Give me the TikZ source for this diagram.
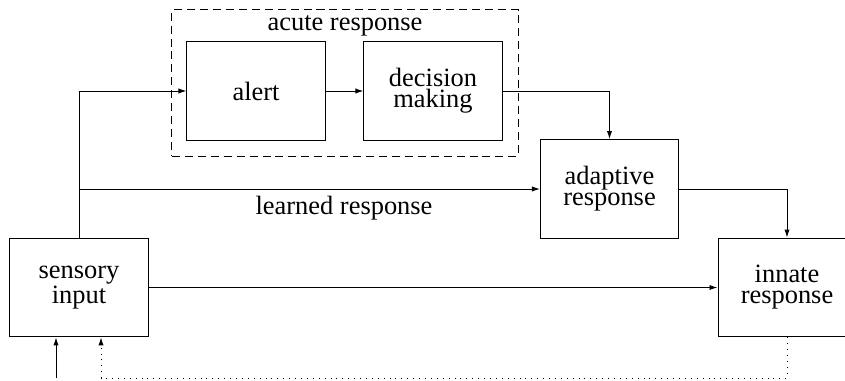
\documentclass[tikz,border=0pt]{standalone}
\usepackage{fontspec}
\setmainfont{Liberation Serif}
\usetikzlibrary{arrows.meta}
\begin{document}
\begin{tikzpicture}[x=0.025cm,y=-0.025cm,line width=0.7pt,
  >={Latex[length=2mm,width=1.3mm]},
  box/.style={draw,minimum width=3.45cm,minimum height=2.47cm,align=center,
    font=\fontsize{18.8}{15}\selectfont},
  txt/.style={font=\fontsize{18.8}{15}\selectfont},
  fbline/.style={dash pattern=on 0.7pt off 3.5pt}]
\useasboundingbox (0,0) rectangle (845,380);
\node[draw,dash pattern=on 5.7pt off 3.5pt,minimum width=8.65cm,minimum height=3.65cm] (acute) at (345,83) {};
\node[txt] (acutelbl) at (345,26) {acute response};
\node[box] (sense) at (79,287.5) {sensory\\input};
\node[box] (alert) at (256,91) {alert};
\node[box] (decide) at (433,91) {decision\\making};
\node[box] (adapt) at (609.5,189) {adaptive\\response};
\node[box] (innate) at (787,287.5) {innate\\response};
\node[txt] (learned) at (344,208) {learned response};
\coordinate (split) at (sense.north |- adapt.west);
\coordinate (in) at (56,378);
\coordinate (fb) at (101,378);
\draw[->] (sense.north) |- (alert.west);
\draw[->] (split) -- (adapt.west);
\draw[->] (alert) -- (decide);
\draw[->] (decide.east) -| (adapt.north);
\draw[->] (adapt.east) -| (innate.north);
\draw[->] (sense.east) -- (innate.west);
\draw[->] (in) -- (in |- sense.south);
\draw[->,fbline] (innate.south) |- (fb) -- (fb |- sense.south);
\end{tikzpicture}
\end{document}
